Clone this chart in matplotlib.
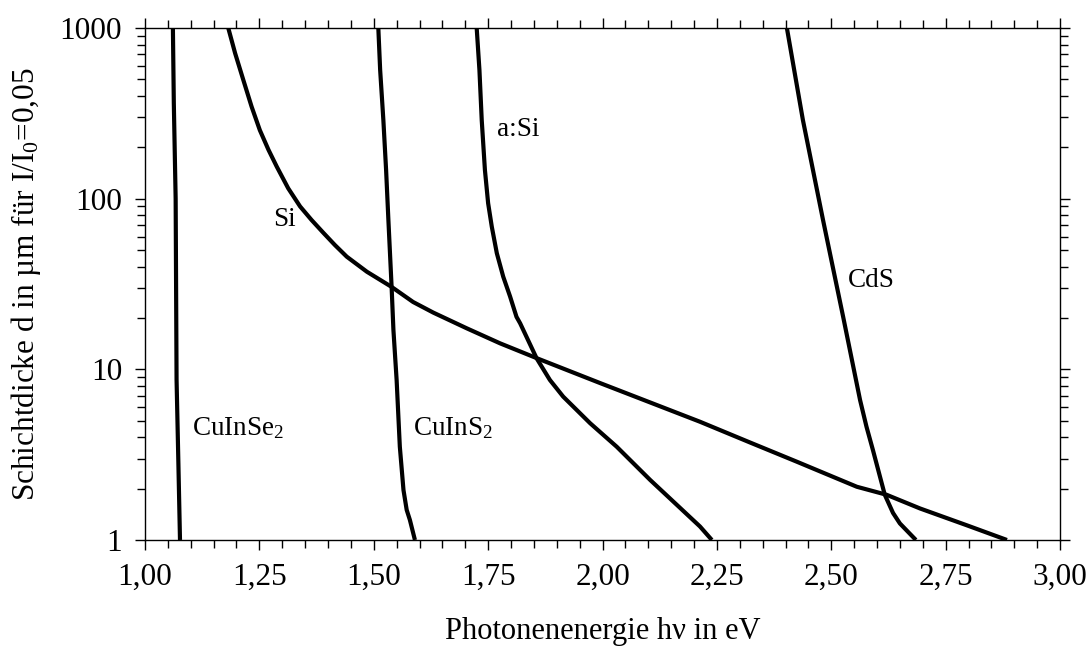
import matplotlib.pyplot as plt
from matplotlib.ticker import MultipleLocator, FuncFormatter, LogLocator, NullFormatter

plt.rcParams['font.family'] = ['Liberation Serif', 'DejaVu Serif']
plt.rcParams['mathtext.fontset'] = 'custom'
plt.rcParams['mathtext.rm'] = 'Liberation Serif'
plt.rcParams['mathtext.it'] = 'Liberation Serif:italic'

# Photonenenergie (eV) und Schichtdicke (µm) je Material
e_cuinse2 = [1.061, 1.063, 1.067, 1.069, 1.073, 1.0765]
d_cuinse2 = [1000, 363, 100, 8.7, 2.8, 1.0]

e_si = [1.182, 1.197, 1.215, 1.233, 1.251, 1.270, 1.288, 1.313, 1.339,
        1.364, 1.390, 1.415, 1.441, 1.485, 1.539, 1.586, 1.630, 1.703,
        1.776, 1.857, 1.995, 2.213, 2.322, 2.424, 2.556, 2.621,
        2.694, 2.796, 2.884]
d_si = [1000, 711, 495, 346, 252, 193, 154, 115, 90,
        75, 63, 53.5, 45.7, 37.3, 30.4, 24.8, 21.5, 17.4,
        14.2, 11.6, 8.3, 4.93, 3.73, 2.88, 2.05, 1.84,
        1.53, 1.22, 1.0]

e_cuins2 = [1.510, 1.514, 1.521, 1.527, 1.532, 1.539, 1.543, 1.550, 1.557,
            1.565, 1.572, 1.579, 1.590]
d_cuins2 = [1000, 567, 289, 147, 75, 30.5, 17, 8.66, 3.52,
            1.96, 1.50, 1.31, 1.0]

e_asi = [1.725, 1.731, 1.736, 1.743, 1.750, 1.758, 1.769, 1.783, 1.798,
         1.812, 1.820, 1.856, 1.885, 1.914, 1.973, 2.031, 2.104, 2.213, 2.239]
d_asi = [1000, 567, 289, 147, 94, 68.5, 47.9, 34.9, 26.7,
         20.3, 18.6, 11.6, 8.66, 6.92, 4.83, 3.52, 2.25, 1.20, 1.0]

e_cds = [2.403, 2.438, 2.482, 2.526, 2.563, 2.577, 2.591, 2.617,
         2.635, 2.650, 2.685]
d_cds = [1000, 289, 75, 20.3, 6.6, 4.61, 3.37, 1.84, 1.44, 1.25, 1.0]

fig = plt.figure(figsize=(10.91, 6.55), dpi=100)
ax = fig.add_axes([0.1329, 0.1756, 0.8387, 0.7817])

for e, d in [(e_cuinse2, d_cuinse2), (e_si, d_si), (e_cuins2, d_cuins2),
             (e_asi, d_asi), (e_cds, d_cds)]:
    ax.plot(e, d, color='black', lw=3.0, solid_joinstyle='round',
            solid_capstyle='butt')

ax.set_yscale('log')
ax.set_xlim(1.0, 3.0)
ax.set_ylim(1, 1000)

ax.text(1.28, 75, 'Si', fontsize=19.5, va='center')
ax.text(1.769, 253, 'a:Si', fontsize=19.5, va='center')
ax.text(2.537, 33, 'CdS', fontsize=19.5, va='center')
ax.text(1.103, 4.5, 'CuInSe$_2$', fontsize=19.5, va='center')
ax.text(1.586, 4.5, 'CuInS$_2$', fontsize=19.5, va='center')

ax.xaxis.set_major_locator(MultipleLocator(0.25))
ax.xaxis.set_minor_locator(MultipleLocator(0.05))
ax.xaxis.set_major_formatter(FuncFormatter(lambda v, p: f'{v:.2f}'.replace('.', ',')))
ax.yaxis.set_major_locator(LogLocator(base=10, numticks=10))
ax.yaxis.set_minor_locator(LogLocator(base=10, subs=range(2, 10), numticks=20))
ax.yaxis.set_major_formatter(FuncFormatter(lambda v, p: f'{v:g}'))
ax.yaxis.set_minor_formatter(NullFormatter())

ax.tick_params(which='both', direction='out', top=True, right=True,
               width=1.0, labelsize=22.5)
ax.tick_params(which='major', length=7.5)
ax.tick_params(which='minor', length=5.5)
ax.tick_params(axis='x', which='major', pad=9)
ax.tick_params(axis='y', which='major', pad=9)
for s in ax.spines.values():
    s.set_linewidth(1.0)

ax.set_xlabel('Photonenenergie hν in eV', fontsize=22, labelpad=18)
ax.set_ylabel('Schichtdicke d in µm für I/I$_0$=0,05', fontsize=22.5, labelpad=12)

fig.savefig('out.png', dpi=100)
